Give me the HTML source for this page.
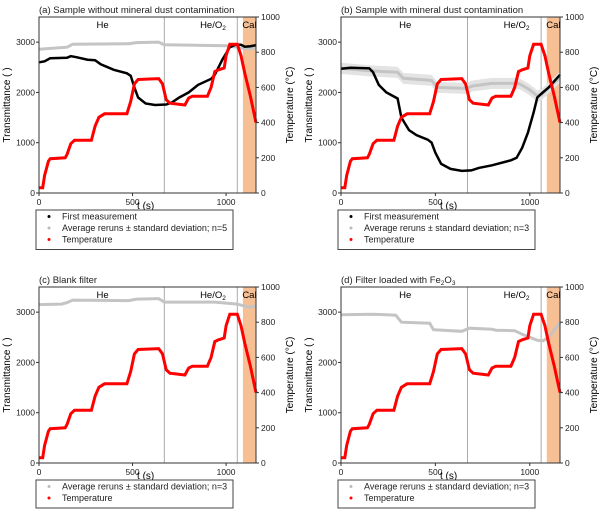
<!DOCTYPE html>
<html><head><meta charset="utf-8"><style>
body{margin:0;background:#fff;}
svg{display:block;font-family:"Liberation Sans",sans-serif;}
</style></head><body>
<svg id="fig" width="600" height="514" xmlns="http://www.w3.org/2000/svg"></svg>
<script>
const tempT=[0,20,30,50,60,140,150,170,190,280,300,320,350,470,490,510,530,640,660,680,700,780,800,820,900,920,940,960,990,1000,1020,1060,1080,1100,1130,1160];
const tempV=[30,30,100,180,195,200,220,280,300,300,380,430,450,450,520,620,645,650,620,530,510,500,540,550,550,600,690,700,710,780,845,845,780,680,550,400];
const aFirstT=[0,30,60,150,170,200,260,300,330,400,470,490,510,530,570,620,680,710,750,800,850,920,940,980,1020,1050,1080,1100,1130,1160];
const aFirstV=[2600,2620,2680,2690,2720,2700,2650,2640,2560,2450,2380,2330,2100,1900,1780,1750,1760,1800,1900,2000,2150,2270,2350,2650,2900,2950,2950,2910,2920,2940];
const aAvgT=[0,150,180,480,520,640,670,1000,1060,1100,1160];
const aAvgV=[2860,2900,2960,2970,2990,3000,2950,2930,2900,2870,2880];
const bFirstT=[0,50,150,170,200,240,280,300,320,360,400,460,480,500,530,580,640,690,730,800,900,930,960,990,1020,1040,1060,1100,1160];
const bFirstV=[2470,2490,2480,2400,2150,2000,1920,1880,1500,1250,1150,1060,1000,800,580,480,440,450,500,550,650,700,900,1200,1600,1900,1970,2100,2350];
const bAvgT=[0,150,300,330,480,510,660,700,800,940,970,1000,1040,1060,1160];
const bAvgV=[2480,2430,2400,2280,2240,2100,2080,2130,2180,2180,2120,2050,1930,1950,2300];
const cAvgT=[0,120,150,180,480,520,640,670,940,1000,1060,1100,1130,1160];
const cAvgV=[3150,3160,3190,3240,3230,3260,3270,3200,3200,3180,3160,3120,3100,3130];
const dAvgT=[0,170,290,320,470,490,640,680,800,820,920,960,1000,1040,1070,1100,1160];
const dAvgV=[2950,2960,2940,2800,2780,2650,2620,2680,2660,2640,2630,2560,2500,2440,2430,2500,2790];
const xTicks=[0,500,1000];
const yTicks=[0,1000,2000,3000];
const rTicks=[0,200,400,600,800,1000];

const NS="http://www.w3.org/2000/svg";
const svg=document.getElementById('fig');
function mk(tag,attrs,parent,text){const e=document.createElementNS(NS,tag);for(const k in attrs)e.setAttribute(k,attrs[k]);if(text!==undefined)e.textContent=text;(parent||svg).appendChild(e);return e;}

function panel(cfg){
  const g=mk('g',{});
  
  
  const X0=cfg.x,Y0=cfg.y,W=cfg.w,H=176;
  const xs=t=>X0+t/1160*W;
  const ys=v=>Y0+H-v/3500*H;
  const yr=v=>Y0+H-v/1000*H;
  const cal=mk('rect',{x:xs(1090),y:Y0,width:xs(1160)-xs(1090),height:H,fill:'#f6bf94'},g);
  
  
  [670,1060].forEach(t=>{const l=mk('line',{x1:xs(t),x2:xs(t),y1:Y0,y2:Y0+H,stroke:'#aaa','stroke-width':1},g);
    
    });
  const path=(T,V,f)=>T.map((t,i)=>(i?'L':'M')+xs(t).toFixed(1)+','+f(V[i]).toFixed(1)).join('');
  if(cfg.band){
    const up=cfg.avgT.map((t,i)=>(i?'L':'M')+xs(t)+','+ys(cfg.avgV[i]+110)).join('');
    const dn=cfg.avgT.slice().reverse().map((t,i)=>'L'+xs(t)+','+ys(cfg.avgV[cfg.avgT.length-1-i]-110)).join('');
    const b=mk('path',{d:up+dn+'Z',fill:'#e3e3e3'},g);
    
    
  }
  const av=mk('path',{d:path(cfg.avgT,cfg.avgV,ys),fill:'none',stroke:'#c4c4c4','stroke-width':3},g);
  
  
  if(cfg.firstT){
    const f=mk('path',{d:path(cfg.firstT,cfg.firstV,ys),fill:'none',stroke:'#000','stroke-width':2.5},g);
    
    
  }
  const tp=mk('path',{d:path(tempT,tempV,yr),fill:'none',stroke:'#f00','stroke-width':3},g);
  
  
  mk('rect',{x:X0,y:Y0,width:W,height:H,fill:'none',stroke:'#333','stroke-width':1},g);
  xTicks.forEach(t=>{mk('line',{x1:xs(t),x2:xs(t),y1:Y0+H,y2:Y0+H+3,stroke:'#333'},g);
    const tx=mk('text',{x:xs(t),y:Y0+H+12,'font-size':8.5,'text-anchor':'middle',fill:'#222'},g,t);
    
    });
  yTicks.forEach(v=>{mk('line',{x1:X0-3,x2:X0,y1:ys(v),y2:ys(v),stroke:'#333'},g);
    const tx=mk('text',{x:X0-4,y:ys(v)+3,'font-size':8.5,'text-anchor':'end',fill:'#222'},g,v);
    
    });
  rTicks.forEach(v=>{mk('line',{x1:X0+W,x2:X0+W+3,y1:yr(v),y2:yr(v),stroke:'#333'},g);
    const tx=mk('text',{x:X0+W+5,y:yr(v)+3,'font-size':8.5,fill:'#222'},g,v);
    
    });
  const tt=mk('text',{x:X0,y:Y0-4,'font-size':9.5,fill:'#222'},g,cfg.title);
  
  
  if(cfg.sub){mk('tspan',{'font-size':6.5,dy:2},tt,cfg.sub);mk('tspan',{'font-size':9.5,dy:-2},tt,'O');mk('tspan',{'font-size':6.5,dy:2},tt,'3');}
  const he=mk('text',{x:xs(340),y:Y0+11,'font-size':9.5,'text-anchor':'middle'},g,'He');
  
  
  const ho=mk('text',{x:xs(930),y:Y0+11,'font-size':9.5,'text-anchor':'middle'},g,'He/O');
  
  
  mk('tspan',{'font-size':6.5,dy:2},ho,'2');
  const cl=mk('text',{x:xs(1125),y:Y0+11,'font-size':9.5,'text-anchor':'middle'},g,'Cal');
  
  
  const xl=mk('text',{x:xs(570),y:Y0+H+16,'font-size':10,'text-anchor':'middle'},g,'t (s)');
  
  
  const yl=mk('text',{x:X0-29,y:Y0+H/2,'font-size':10,'text-anchor':'middle',transform:`rotate(-90 ${X0-29} ${Y0+H/2})`},g,'Transmittance ( )');
  
  
  const rl=mk('text',{x:X0+W+37,y:Y0+H/2,'font-size':10,'text-anchor':'middle',transform:`rotate(-90 ${X0+W+37} ${Y0+H/2})`},g,'Temperature (°C)');
  
  
  const entries=[];
  if(cfg.firstT)entries.push(['#000','First measurement']);
  entries.push(['#bbb','Average reruns ± standard deviation; n='+cfg.n]);
  entries.push(['#f00','Temperature']);
  const lg=mk('g',{},g);
  
  
  const LY=Y0+H+17, LH=entries.length*11.5+5;
  mk('rect',{x:X0-3,y:LY,width:197,height:LH,fill:'#fff',stroke:'#444','stroke-width':1},lg);
  entries.forEach((e,i)=>{
    const ey=LY+9.5+i*11.5;
    const en=mk('g',{},lg);
    
    
    mk('circle',{cx:X0+10,cy:ey-3,r:1.5,fill:e[0]},en);
    mk('text',{x:X0+23,y:ey,'font-size':9,fill:'#222'},en,e[1]);
  });
}
panel({name:'panel-a',x:39,y:17,w:217,title:'(a) Sample without mineral dust contamination',firstT:aFirstT,firstV:aFirstV,avgT:aAvgT,avgV:aAvgV,n:5});
panel({name:'panel-b',x:341,y:17,w:219,title:'(b) Sample with mineral dust contamination',firstT:bFirstT,firstV:bFirstV,avgT:bAvgT,avgV:bAvgV,n:3,band:true});
panel({name:'panel-c',x:39,y:287,w:217,title:'(c) Blank filter',avgT:cAvgT,avgV:cAvgV,n:3});
panel({name:'panel-d',x:341,y:287,w:219,title:'(d) Filter loaded with Fe',sub:'2',avgT:dAvgT,avgV:dAvgV,n:3});
</script>
</body></html>
